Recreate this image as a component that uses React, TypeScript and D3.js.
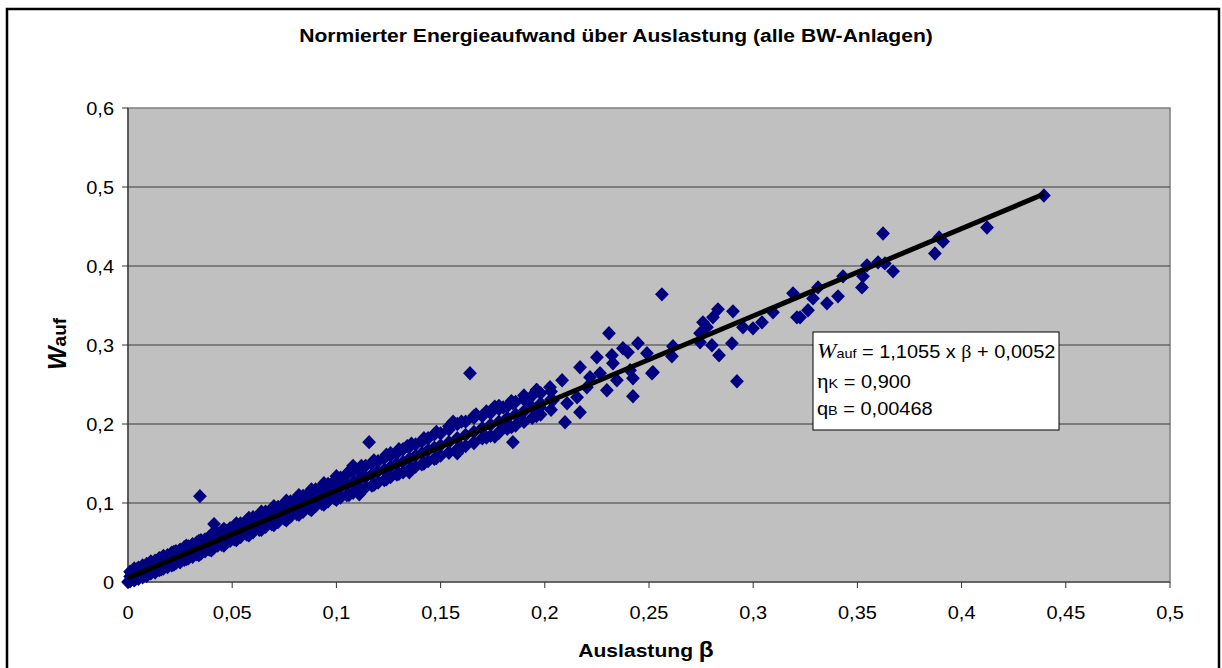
import React from "react";
import * as d3 from "d3";

const chartTitle = "Normierter Energieaufwand über Auslastung (alle BW-Anlagen)";
const xTicks = [0, 0.05, 0.1, 0.15, 0.2, 0.25, 0.3, 0.35, 0.4, 0.45, 0.5];
const yTicks = [0, 0.1, 0.2, 0.3, 0.4, 0.5, 0.6];

// Dense band 0 - 0.05  [beta, W]
const bandA: [number, number][] = [
  [0, 0], [0.001, 0.013], [0.001, 0.007], [0.001, 0.001], [0.003, 0.017], [0.003, 0.009], [0.003, 0.002],
  [0.005, 0.018], [0.005, 0.011], [0.005, 0.004], [0.007, 0.021], [0.007, 0.014], [0.007, 0.006],
  [0.009, 0.023], [0.009, 0.015], [0.009, 0.008], [0.011, 0.026], [0.011, 0.018], [0.011, 0.011],
  [0.013, 0.027], [0.013, 0.02], [0.013, 0.012], [0.015, 0.03], [0.015, 0.023], [0.015, 0.015],
  [0.017, 0.033], [0.017, 0.024], [0.017, 0.017], [0.019, 0.034], [0.019, 0.027], [0.019, 0.019],
  [0.021, 0.037], [0.021, 0.029], [0.021, 0.021], [0.023, 0.039], [0.023, 0.031], [0.023, 0.024],
  [0.025, 0.041], [0.025, 0.034], [0.025, 0.025], [0.027, 0.044], [0.027, 0.035], [0.027, 0.028],
  [0.029, 0.045], [0.029, 0.038], [0.029, 0.03], [0.031, 0.048], [0.031, 0.04], [0.031, 0.032],
  [0.033, 0.05], [0.033, 0.042], [0.033, 0.035], [0.035, 0.053], [0.035, 0.044], [0.035, 0.036],
  [0.037, 0.054], [0.037, 0.047], [0.037, 0.039], [0.039, 0.057], [0.039, 0.048], [0.039, 0.041],
  [0.041, 0.059], [0.041, 0.051], [0.041, 0.043], [0.043, 0.061], [0.043, 0.053], [0.043, 0.046],
  [0.045, 0.064], [0.045, 0.056], [0.045, 0.047], [0.047, 0.065], [0.047, 0.057], [0.047, 0.05],
  [0.049, 0.068], [0.049, 0.06], [0.049, 0.052],
];

// Dense band 0.05 - 0.1
const bandB: [number, number][] = [
  [0.051, 0.071], [0.051, 0.062], [0.051, 0.054], [0.054, 0.074], [0.054, 0.066], [0.054, 0.057],
  [0.057, 0.078], [0.057, 0.069], [0.057, 0.06], [0.06, 0.082], [0.06, 0.072], [0.06, 0.063],
  [0.063, 0.084], [0.063, 0.076], [0.063, 0.066], [0.066, 0.089], [0.066, 0.079], [0.066, 0.07],
  [0.069, 0.092], [0.069, 0.083], [0.069, 0.073], [0.072, 0.095], [0.072, 0.085], [0.072, 0.076],
  [0.075, 0.099], [0.075, 0.089], [0.075, 0.08], [0.078, 0.102], [0.078, 0.092], [0.078, 0.083],
  [0.081, 0.106], [0.081, 0.096], [0.081, 0.086], [0.084, 0.109], [0.084, 0.099], [0.084, 0.089],
  [0.087, 0.113], [0.087, 0.102], [0.087, 0.093], [0.09, 0.117], [0.09, 0.106], [0.09, 0.096],
  [0.093, 0.12], [0.093, 0.109], [0.093, 0.099], [0.096, 0.124], [0.096, 0.112], [0.096, 0.102],
  [0.099, 0.128], [0.099, 0.116], [0.099, 0.106],
];

// Dense band 0.1 - 0.15
const bandC: [number, number][] = [
  [0.102, 0.132], [0.102, 0.12], [0.102, 0.107], [0.105, 0.136], [0.105, 0.123], [0.105, 0.11],
  [0.108, 0.14], [0.108, 0.126], [0.108, 0.113], [0.111, 0.142], [0.111, 0.13], [0.111, 0.117],
  [0.114, 0.147], [0.114, 0.133], [0.114, 0.12], [0.117, 0.15], [0.117, 0.136], [0.117, 0.122],
  [0.12, 0.153], [0.12, 0.14], [0.12, 0.126], [0.123, 0.157], [0.123, 0.142], [0.123, 0.129],
  [0.126, 0.16], [0.126, 0.146], [0.126, 0.133], [0.129, 0.163], [0.129, 0.15], [0.129, 0.136],
  [0.132, 0.168], [0.132, 0.152], [0.132, 0.139], [0.135, 0.171], [0.135, 0.156], [0.135, 0.142],
  [0.138, 0.174], [0.138, 0.16], [0.138, 0.146], [0.141, 0.178], [0.141, 0.163], [0.141, 0.149],
  [0.144, 0.182], [0.144, 0.167], [0.144, 0.153], [0.147, 0.187], [0.147, 0.17], [0.147, 0.156],
];

// Band 0.15 - 0.2
const bandD: [number, number][] = [
  [0.15, 0.188], [0.15, 0.173], [0.15, 0.16], [0.154, 0.193], [0.154, 0.177], [0.154, 0.164],
  [0.158, 0.2], [0.158, 0.182], [0.158, 0.168], [0.162, 0.203], [0.162, 0.186], [0.162, 0.172],
  [0.166, 0.208], [0.166, 0.19], [0.166, 0.176], [0.17, 0.21], [0.17, 0.195], [0.17, 0.182],
  [0.174, 0.214], [0.174, 0.199], [0.174, 0.185], [0.178, 0.219], [0.178, 0.203], [0.178, 0.189],
  [0.182, 0.222], [0.182, 0.208], [0.182, 0.194], [0.186, 0.228], [0.186, 0.212], [0.186, 0.198],
  [0.19, 0.231], [0.19, 0.216], [0.19, 0.203], [0.194, 0.236], [0.194, 0.221], [0.194, 0.208],
  [0.198, 0.239], [0.198, 0.226], [0.198, 0.212], [0.203, 0.241], [0.203, 0.231], [0.203, 0.218],
];

// Extra points filling the band edges (jagged outline)
const bandEdges: [number, number][] = [
  [0.004, 0.005], [0.004, 0.016], [0.01, 0.011], [0.01, 0.022], [0.016, 0.03], [0.016, 0.016],
  [0.022, 0.038], [0.022, 0.022], [0.028, 0.046], [0.028, 0.029], [0.034, 0.052], [0.034, 0.034],
  [0.04, 0.06], [0.04, 0.04], [0.046, 0.067], [0.046, 0.046], [0.052, 0.074], [0.052, 0.053],
  [0.058, 0.081], [0.058, 0.059], [0.064, 0.089], [0.064, 0.066], [0.07, 0.096], [0.07, 0.072],
  [0.076, 0.103], [0.076, 0.078], [0.082, 0.11], [0.082, 0.085], [0.088, 0.117], [0.088, 0.091],
  [0.094, 0.125], [0.094, 0.098], [0.1, 0.134], [0.1, 0.104], [0.106, 0.14], [0.106, 0.11],
  [0.112, 0.147], [0.112, 0.116], [0.118, 0.154], [0.118, 0.123], [0.124, 0.161], [0.124, 0.13],
  [0.13, 0.168], [0.13, 0.137], [0.136, 0.175], [0.136, 0.143], [0.142, 0.182], [0.142, 0.15],
  [0.148, 0.19], [0.148, 0.157], [0.154, 0.197], [0.154, 0.164], [0.16, 0.203], [0.16, 0.17],
  [0.166, 0.21], [0.166, 0.177], [0.172, 0.216], [0.172, 0.183], [0.178, 0.223], [0.178, 0.19],
  [0.184, 0.229], [0.184, 0.196], [0.19, 0.236], [0.19, 0.203], [0.196, 0.243], [0.196, 0.21],
  [0.108, 0.147], [0.126, 0.163], [0.134, 0.172], [0.156, 0.203], [0.167, 0.212], [0.176, 0.222],
  [0.111, 0.111], [0.135, 0.139], [0.158, 0.163], [0.176, 0.184],
];

// Scattered points 0.18 - 0.44
const scatterE: [number, number][] = [
  [0.18, 0.221], [0.1847, 0.2263], [0.1915, 0.23], [0.1963, 0.2427], [0.1977, 0.2212], [0.2025, 0.2465],
  [0.2039, 0.23], [0.2083, 0.2554], [0.2097, 0.2023], [0.2107, 0.2263], [0.2155, 0.2339], [0.2169, 0.2718],
  [0.2169, 0.2149], [0.2202, 0.2465], [0.2217, 0.2592], [0.225, 0.2845], [0.2265, 0.2642], [0.2298, 0.2427],
  [0.2308, 0.3148], [0.2322, 0.287], [0.2327, 0.2769], [0.2346, 0.2554], [0.2375, 0.2958], [0.2399, 0.2908],
  [0.2409, 0.268], [0.2423, 0.2579], [0.2423, 0.2351], [0.2447, 0.3022], [0.249, 0.2895], [0.2514, 0.2642],
  [0.2519, 0.2655], [0.2562, 0.3641], [0.261, 0.2857], [0.2615, 0.2984], [0.2745, 0.3034], [0.2745, 0.3148],
  [0.2759, 0.3287], [0.2778, 0.3224], [0.2802, 0.2996], [0.2807, 0.335], [0.2831, 0.3451], [0.2836, 0.287],
  [0.2898, 0.3021], [0.2903, 0.3426], [0.2922, 0.2541], [0.2951, 0.3224], [0.2999, 0.3211], [0.3042, 0.3287],
  [0.3095, 0.3413], [0.3191, 0.3654], [0.321, 0.335], [0.3225, 0.335], [0.3263, 0.3439], [0.3287, 0.359],
  [0.3311, 0.3729], [0.3354, 0.3527], [0.3407, 0.3616], [0.3431, 0.3869], [0.3522, 0.3729], [0.3527, 0.3869],
  [0.3546, 0.4008], [0.3599, 0.4046], [0.3623, 0.4412], [0.3632, 0.4033], [0.3671, 0.3932], [0.3872, 0.4159],
  [0.3892, 0.4362], [0.3911, 0.4311], [0.4122, 0.4488], [0.4395, 0.4893],
  [0.1847, 0.177], [0.1881, 0.2048], [0.1819, 0.196],
];

// Outliers above the band
const outliers: [number, number][] = [
  [0.0345, 0.1087], [0.0413, 0.0733], [0.1157, 0.177], [0.1641, 0.2642],
];

// Linear trend  W = 1,1055 x beta + 0,0052
const trendSlope = 1.1055;
const trendIntercept = 0.0052;
const trendBetaRange = [0, 0.4395];

const W = 1222;
const H = 668;
const plot = { left: 128, right: 1170, top: 108, bottom: 582 };
const fontFamily = "'Liberation Sans', Arial, sans-serif";
const serif = "'Liberation Serif', 'Times New Roman', serif";
const SX = 1.11;

const fmt = (v: number) => String(+v.toFixed(2)).replace(".", ",");

function SText(props: { x: number; y: number; sx?: number; anchor?: string; size: number; bold?: boolean; children: React.ReactNode }) {
  const { x, y, sx = SX, anchor = "start", size, bold, children } = props;
  return (
    <text transform={`translate(${x},${y}) scale(${sx},1)`} textAnchor={anchor} fontSize={size}
      fontWeight={bold ? "bold" : "normal"}>
      {children}
    </text>
  );
}

export default function App() {
  const x = d3.scaleLinear().domain([0, 0.5]).range([plot.left, plot.right]);
  const y = d3.scaleLinear().domain([0, 0.6]).range([plot.bottom, plot.top]);
  const allPoints = [...bandA, ...bandB, ...bandC, ...bandD, ...bandEdges, ...scatterE, ...outliers];
  const diamond = "M0,-7.2L6.9,0L0,7.2L-6.9,0Z";
  const trend = d3.line<number>()
    .x((b) => x(b))
    .y((b) => y(trendSlope * b + trendIntercept));

  return (
    <svg width={W} height={H} style={{ position: "absolute", left: 0, top: 0, display: "block" }}
      fontFamily={fontFamily}>
      <rect x={0} y={0} width={W} height={H} fill="#ffffff" />
      <rect x={7} y={9} width={1212} height={700} fill="#ffffff" stroke="#000" strokeWidth={2.5} />
      <SText x={616} y={42} anchor="middle" size={19} bold>{chartTitle}</SText>

      <rect x={plot.left} y={plot.top} width={plot.right - plot.left} height={plot.bottom - plot.top}
        fill="#c0c0c0" stroke="#808080" strokeWidth={1.5} />
      {yTicks.filter((t) => t > 0 && t < 0.6).map((t) => (
        <line key={"g" + t} x1={plot.left} x2={plot.right} y1={y(t)} y2={y(t)} stroke="#3a3a3a" strokeWidth={1} />
      ))}
      <line x1={plot.left} x2={plot.left} y1={plot.top} y2={plot.bottom} stroke="#333" strokeWidth={1.2} />
      <line x1={plot.left} x2={plot.right} y1={plot.bottom} y2={plot.bottom} stroke="#333" strokeWidth={1.2} />

      {yTicks.map((t) => (
        <g key={"y" + t}>
          <line x1={plot.left - 6} x2={plot.left} y1={y(t)} y2={y(t)} stroke="#333" />
          <SText x={114} y={y(t) + 6.5} anchor="end" size={18}>{fmt(t)}</SText>
        </g>
      ))}
      {xTicks.map((t) => (
        <g key={"x" + t}>
          <line x1={x(t)} x2={x(t)} y1={plot.bottom} y2={plot.bottom + 6} stroke="#333" />
          <SText x={x(t)} y={619} anchor="middle" size={18}>{fmt(t)}</SText>
        </g>
      ))}

      {allPoints.map((p, i) => (
        <path key={"p" + i} d={diamond} transform={`translate(${x(p[0])},${y(p[1])})`} fill="#000080" />
      ))}

      <path d={trend(trendBetaRange) || ""} stroke="#000" strokeWidth={5} fill="none" />

      <rect x={813} y={332} width={246} height={98} fill="#fff" stroke="#000" strokeWidth={1} />
      <SText x={817} y={358} size={18}>
        <tspan fontFamily={serif} fontStyle="italic" fontSize={21}>W</tspan>
        <tspan fontSize={13}>auf</tspan>
        <tspan> = 1,1055 x </tspan>
        <tspan fontFamily={serif}>β</tspan>
        <tspan> + 0,0052</tspan>
      </SText>
      <SText x={817} y={388} size={18}>
        <tspan fontFamily={serif} fontSize={20}>η</tspan>
        <tspan fontSize={13}>K</tspan>
        <tspan> = 0,900</tspan>
      </SText>
      <SText x={817} y={415} size={18}>
        <tspan>q</tspan>
        <tspan fontSize={13}>B</tspan>
        <tspan> = 0,00468</tspan>
      </SText>

      <SText x={646} y={657} anchor="middle" size={19} bold>
        <tspan>Auslastung </tspan>
        <tspan fontSize={22}>β</tspan>
      </SText>

      <text transform="translate(66,344) rotate(-90)" textAnchor="middle" fontWeight="bold" fontSize={19}>
        <tspan fontStyle="italic" fontSize={25}>W</tspan>
        <tspan>auf</tspan>
      </text>
    </svg>
  );
}
